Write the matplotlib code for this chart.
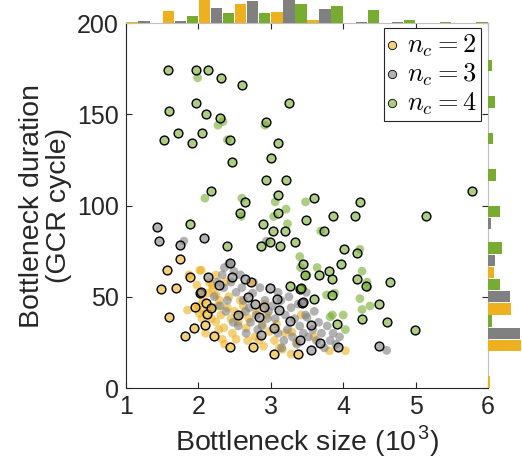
import numpy as np
import matplotlib
matplotlib.use("Agg")
import matplotlib.pyplot as plt

plt.rcParams['font.family'] = ['Liberation Sans', 'DejaVu Sans']
plt.rcParams['mathtext.fontset'] = 'cm'

# scatter data: (bottleneck size in 10^3, duration in GCR cycles, drawn with black edge)
nc2_x = [1.49, 1.57, 1.59, 1.69, 1.74, 1.82, 1.85, 1.88, 1.87, 1.94, 1.95, 1.98, 1.99,
         2.01, 2.02, 2.04, 2.02, 2.05, 2.07, 2.09, 2.11, 2.12, 2.13, 2.15, 2.19, 2.22,
         2.24, 2.24, 2.24, 2.27, 2.29, 2.31, 2.33, 2.35, 2.38, 2.40, 2.43, 2.45, 2.47,
         2.06, 2.10, 2.17, 2.20, 2.28, 2.36, 2.42, 2.18,
         2.50, 2.52, 2.55, 2.60, 2.62, 2.66, 2.70, 2.72, 2.75, 2.78, 2.80, 2.84, 2.88,
         2.90, 2.92, 2.95, 2.98, 2.58, 2.68,
         3.04, 3.05, 3.08, 3.12, 3.16, 3.20, 3.28, 3.29, 3.35, 3.38, 3.42, 3.60, 3.81, 4.03]
nc2_y = [54.4, 64.7, 38.7, 54.8, 70.5, 28.5, 42.7, 60.6, 62.0, 32.7, 44.5, 56.4, 44.9,
         40.9, 64.5, 64.5, 51.9, 38.0, 42.7, 34.5, 46.8, 40.5, 52.0, 58.0, 56.4, 28.5,
         61.9, 36.3, 51.0, 45.0, 48.0, 40.0, 26.7, 33.0, 58.2, 44.0, 22.6, 38.0, 30.0,
         48.0, 30.0, 44.0, 54.0, 32.0, 24.0, 50.0, 38.0,
         42.0, 26.7, 36.0, 40.0, 45.0, 32.9, 38.0, 58.2, 22.6, 28.0, 42.0, 26.3, 35.0,
         23.0, 46.0, 40.0, 31.0, 48.0, 26.0,
         18.6, 26.0, 35.0, 22.0, 21.2, 30.0, 18.6, 30.7, 25.0, 18.6, 40.0, 28.0, 20.4, 20.4]
nc2_edge = [1, 1, 1, 1, 1, 1, 0, 1, 0, 1, 1, 0, 0,
            0, 0, 0, 1, 0, 0, 1, 1, 1, 0, 0, 0, 1,
            0, 0, 0, 0, 0, 0, 0, 0, 0, 0, 1, 0, 0,
            0, 0, 1, 0, 0, 0, 0, 0,
            0, 0, 0, 0, 0, 0, 0, 1, 1, 0, 0, 0, 0,
            0, 0, 0, 0, 0, 0,
            1, 0, 0, 0, 0, 0, 0, 0, 0, 1, 0, 0, 0, 0]

nc3_x = [1.43, 1.45, 1.75, 1.80, 2.08, 2.13, 2.29, 2.04, 2.44, 2.42, 2.47, 2.52, 2.55,
         2.35, 2.40, 2.45, 2.30, 2.38, 2.48, 2.22, 2.26, 2.33, 2.49, 2.36, 2.20,
         2.60, 2.62, 2.65, 2.68, 2.70, 2.72, 2.75, 2.78, 2.80, 2.84, 2.87, 2.90, 2.88,
         2.92, 2.95, 2.97, 2.58, 2.64, 2.76, 2.85, 2.55, 2.66, 2.82, 2.94, 2.99,
         3.04, 3.12, 3.26, 3.43, 3.41, 3.56, 3.55, 3.68, 3.93, 3.02, 3.06, 3.10, 3.14,
         3.18, 3.20, 3.23, 3.28, 3.30, 3.33, 3.36, 3.38, 3.40, 3.45, 3.48, 3.15, 3.25,
         3.08, 3.10, 3.45,
         3.50, 3.52, 3.58, 3.60, 3.63, 3.66, 3.70, 3.74, 3.78, 3.82, 3.86, 3.90, 3.95,
         3.49, 4.49, 4.60]
nc3_y = [88.2, 80.5, 78.5, 80.5, 82.4, 60.6, 56.4, 52.4, 68.3, 68.0, 61.0, 52.4, 40.2,
         55.0, 48.0, 58.0, 45.0, 42.0, 36.0, 50.0, 58.0, 62.0, 64.0, 66.0, 44.0,
         55.0, 48.0, 42.0, 50.0, 44.0, 36.0, 52.0, 46.0, 40.0, 38.7, 29.0, 44.6, 34.0,
         48.0, 38.0, 42.0, 62.0, 60.0, 58.0, 55.0, 34.0, 30.0, 32.0, 80.5, 54.6,
         32.7, 42.7, 36.5, 46.4, 26.3, 34.5, 20.8, 24.8, 22.6, 45.0, 38.0, 30.0, 48.0,
         26.0, 40.0, 32.0, 44.0, 28.0, 38.0, 24.0, 46.0, 34.0, 30.0, 40.0, 22.0, 50.0,
         49.0, 52.4, 47.0,
         38.7, 28.0, 32.0, 42.0, 26.0, 36.0, 30.0, 22.0, 34.0, 26.0, 30.0, 24.0, 28.0,
         52.4, 22.8, 20.6]
nc3_edge = [1, 1, 1, 0, 1, 1, 1, 1, 1, 0, 1, 0, 1,
            0, 0, 0, 0, 0, 0, 0, 0, 0, 0, 0, 0,
            0, 0, 0, 1, 0, 0, 0, 1, 0, 1, 1, 1, 0,
            0, 0, 0, 0, 1, 0, 0, 0, 0, 0, 0, 1,
            1, 1, 1, 1, 1, 1, 1, 1, 1, 0, 0, 0, 0,
            0, 0, 0, 0, 0, 0, 0, 0, 0, 0, 0, 0, 0,
            1, 0, 1,
            0, 0, 0, 0, 0, 0, 0, 0, 0, 0, 0, 0, 0,
            0, 1, 0]

nc4_x = [1.58, 1.97, 2.13, 2.31, 2.60, 1.96, 3.25, 1.59, 2.11, 2.30, 2.93, 1.72, 2.05,
         1.53, 1.91, 2.44, 3.10, 2.46, 3.00, 2.93, 3.21, 2.18, 3.10, 2.64, 2.58, 3.10,
         5.78, 3.59, 4.23, 3.86, 4.16, 5.15, 3.49, 3.73, 4.01, 4.19, 3.97, 3.44, 3.66,
         3.80, 3.47, 3.85, 4.19, 4.31, 4.65, 3.40, 3.60, 3.85, 4.50, 4.26, 3.91, 4.61,
         4.99, 2.89, 3.03, 3.19, 2.99, 3.13, 3.33, 2.86, 3.27, 1.88, 2.40, 3.42,
         1.99, 2.27, 2.34, 2.92, 2.40, 2.09, 2.60, 3.06, 3.21, 2.59, 3.04, 3.48, 3.69,
         4.23, 3.40, 3.64, 4.26, 4.33, 3.77, 3.88, 4.23, 4.37, 4.26, 3.85, 4.00, 4.03,
         3.23, 3.41, 3.50, 3.82, 4.34]
nc4_y = [174, 174, 174, 170, 166, 156, 156, 152, 150, 148, 146, 140, 140,
         136, 134, 136, 134, 124, 126, 114, 114, 108, 106, 102, 96, 96,
         108, 104, 102, 94, 94, 94, 92, 86, 76, 74, 68, 68, 62,
         64, 62, 60, 60, 56, 58, 54, 49, 51, 46, 38, 35, 36,
         32, 90, 86, 86, 80, 78, 80, 78, 56, 90, 78, 55,
         170, 144, 146, 144, 136, 104, 104, 102, 98, 94, 94, 102, 86,
         76, 72, 66, 64, 58, 51, 52, 49, 45, 43, 40, 40, 32,
         90, 66, 62, 39, 55]
nc4_edge = [1] * 64 + [0] * 31

# marginal histograms (probability per bin)
size_bins = [1.0, 1.5, 2.0, 2.5, 3.0, 3.5, 4.0, 4.5, 5.0, 5.5, 6.0]
size_p2 = [0.012, 0.149, 0.42, 0.236, 0.136, 0.041, 0, 0, 0, 0]
size_p3 = [0.025, 0.025, 0.19, 0.273, 0.30, 0.178, 0.012, 0.012, 0, 0]
size_p4 = [0, 0.091, 0.128, 0.12, 0.236, 0.211, 0.157, 0.033, 0.012, 0.012]

dur_bins = [0, 20, 40, 60, 80, 100, 120, 140, 160, 180, 200]
dur_p2 = [0.031, 0.508, 0.359, 0.092, 0, 0, 0, 0, 0, 0]
dur_p3 = [0, 0.497, 0.338, 0.113, 0.051, 0, 0, 0, 0, 0]
dur_p4 = [0, 0.062, 0.179, 0.21, 0.19, 0.118, 0.072, 0.113, 0.062, 0]

colors = ['#EDB120', '#808080', '#77AC30']
labels = ['$n_c = 2$', '$n_c = 3$', '$n_c = 4$']
dark = (0.15, 0.15, 0.15)
light = (0.75, 0.75, 0.75)

W, H = 522, 465
fig = plt.figure(figsize=(W / 100, H / 100), dpi=100)
L, R, T, B = 126, 488, 23, 388
ax = fig.add_axes([L / W, 1 - B / H, (R - L) / W, (B - T) / H])
ax_top = fig.add_axes([L / W, 1 - T / H, (R - L) / W, T / H])
ax_right = fig.add_axes([R / W, 1 - B / H, (W - R) / W, (B - T) / H])

groups = [(nc2_x, nc2_y, nc2_edge), (nc3_x, nc3_y, nc3_edge), (nc4_x, nc4_y, nc4_edge)]
for (gx, gy, ge), c, lab in zip(groups, colors, labels):
    gx, gy, ge = np.array(gx), np.array(gy), np.array(ge, dtype=bool)
    face = matplotlib.colors.to_rgba(c, 0.6)
    ax.scatter(gx[~ge], gy[~ge], s=40, color=face, edgecolors='none', zorder=2)
    ax.scatter(gx[ge], gy[ge], s=40, facecolors=[face], edgecolors='black',
               linewidths=1.0, zorder=3)
    ax.scatter([], [], s=36, facecolors=[face], edgecolors='black', linewidths=0.6,
               label=lab)

ax.set_xlim(1, 6)
ax.set_ylim(0, 200)
ax.set_xticks([1, 2, 3, 4, 5, 6])
ax.set_yticks([0, 50, 100, 150, 200])
ax.tick_params(direction='in', length=4, width=0.8, top=True, right=True,
               labelsize=18, colors=dark, pad=5)
for s in ['left', 'bottom']:
    ax.spines[s].set_color(dark)
for s in ['top', 'right']:
    ax.spines[s].set_color(light)
ax.set_xlabel('Bottleneck size (10$^{\\mathregular{3}}$)', fontsize=20.5, color=dark,
              labelpad=4)
ax.set_ylabel('Bottleneck duration\n(GCR cycle)', fontsize=20.5, color=dark,
              linespacing=1.05, labelpad=4)

leg = ax.legend(loc='upper right', bbox_to_anchor=(0.981, 0.986), borderaxespad=0,
                fontsize=19, handletextpad=0.45, handlelength=0.3, labelspacing=0.1,
                borderpad=0.15, fancybox=False, framealpha=1)
leg.get_frame().set_edgecolor(dark)
leg.get_frame().set_linewidth(0.8)

# top histogram (size)
sb = np.array(size_bins)
bw = (sb[1] - sb[0]) / 3
for k, (p, c) in enumerate(zip([size_p2, size_p3, size_p4], colors)):
    ax_top.bar(sb[:-1] + bw * (k + 0.5), p, width=bw * 0.94, color=c, edgecolor='none')
ax_top.set_xlim(1, 6)
ax_top.set_ylim(0, 0.285)
ax_top.axis('off')

# right histogram (duration)
db = np.array(dur_bins)
bh = (db[1] - db[0]) / 3
for k, (p, c) in enumerate(zip([dur_p2, dur_p3, dur_p4], colors)):
    ax_right.barh(db[:-1] + bh * (k + 0.5), p, height=bh * 0.94, color=c, edgecolor='none')
ax_right.set_ylim(0, 200)
ax_right.set_xlim(0, 0.52)
ax_right.axis('off')

fig.savefig('out.png', dpi=100)
